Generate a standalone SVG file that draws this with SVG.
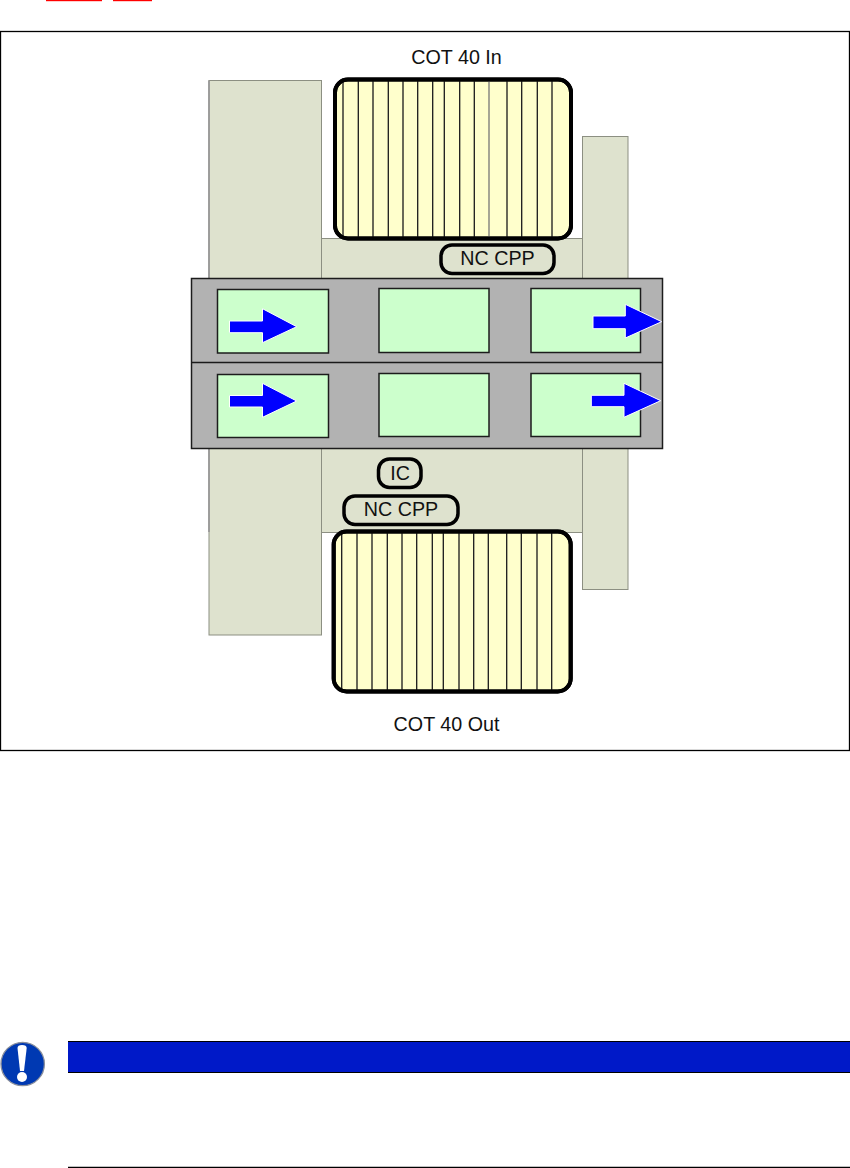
<svg xmlns="http://www.w3.org/2000/svg" width="850" height="1168" viewBox="0 0 850 1168">
<style>
.col{fill:#dee2ce;stroke:#8c8f82;stroke-width:1}
.strip{fill:#b2b2b2;stroke:#1c1c1c;stroke-width:1.5}
.cell{fill:#ccffcc;stroke:#1c1c1c;stroke-width:1.5}
.cot{fill:#ffffcc;stroke:#000;stroke-width:4}
.cotframe{fill:none;stroke:#000;stroke-width:4}
.div{stroke:#1a1a1a;stroke-width:1.3;fill:none}
.tag{fill:#dee2ce;stroke:#000;stroke-width:3.5}
.arrow{fill:#0000ff;stroke:#fff;stroke-width:1}
text{font-family:"Liberation Sans",Arial,sans-serif;font-size:19.7px;fill:#111;text-anchor:middle}
</style>
<rect width="850" height="1168" fill="#fff"/>
<g id="header-marks" fill="#ff0000"><rect x="46" y="0" width="56" height="1.2"/><rect x="113" y="0" width="39" height="1.2"/></g>
<rect id="frame" x="0.5" y="31.5" width="849" height="719" fill="#fff" stroke="#000" stroke-width="1.3"/>
<g id="columns">
<rect class="col" x="321" y="238.500" width="262" height="294"/>
<rect class="col" x="209" y="80.5" width="112.500" height="554.500"/>
<path d="M209 80.500V532" stroke="#999" stroke-width="1.800" fill="none"/>
<rect class="col" x="582.500" y="136.500" width="45.500" height="453"/>
</g>
<g id="strip">
<rect class="strip" x="191.500" y="278.500" width="471" height="170"/>
<path d="M191.500 362.500H662.500" stroke="#1a1a1a" stroke-width="1.500"/>
</g>
<g id="cell-r1-1"><rect class="cell" x="217.500" y="289.500" width="111" height="63.500"/></g>
<g id="cell-r1-2"><rect class="cell" x="379" y="288.500" width="110" height="64"/></g>
<g id="cell-r1-3"><rect class="cell" x="531" y="288.500" width="109.500" height="64"/></g>
<g id="cell-r2-1"><rect class="cell" x="217.500" y="374.500" width="111" height="63"/></g>
<g id="cell-r2-2"><rect class="cell" x="379" y="373.500" width="110" height="63"/></g>
<g id="cell-r2-3"><rect class="cell" x="531" y="373.500" width="109.500" height="63"/></g>
<g id="connectors">
<path class="arrow" d="M229.500 321H262.500V308.700L296.700 326.700L262.500 342.700V332.700H229.500Z"/>
<path class="arrow" d="M229.500 395.500H262.500V383.300L296.700 401L262.500 417.300V407H229.500Z"/>
<path class="arrow" d="M593 316H625.300V304.300L661.700 321.700L625.300 338V328.700H593Z"/>
<path class="arrow" d="M591.300 395.300H624V383.300L660.700 400.700L624 417.300V406.700H591.300Z"/>
</g>
<g id="cot-in">
<rect class="cot" x="335" y="79.500" width="236" height="159" rx="13"/>
<path class="div" d="M343 80V238M358.300 80V238M373 80V238M388.300 80V238M403 80V238M417.700 80V238M432.700 80V238M444.300 80V238M459.700 80V238M474.300 80V238M507 80V238M521.700 80V238M537.300 80V238M552 80V238"/>
<path d="M489 80V238" stroke="#777" stroke-width="1.300"/>
<rect class="cotframe" x="335" y="79.500" width="236" height="159" rx="13"/>
<text x="456.500" y="63.500">COT 40 In</text>
</g>
<g id="cot-out">
<rect class="cot" x="333.700" y="531.500" width="237" height="160" rx="13"/>
<path class="div" d="M341.700 532V690M357 532V690M372 532V690M387.300 532V690M402 532V690M416.700 532V690M432.300 532V690M443.300 532V690M459 532V690M473.700 532V690M488.300 532V690M506.700 532V690M521.300 532V690M537 532V690M551.700 532V690"/>
<rect class="cotframe" x="333.700" y="531.500" width="237" height="160" rx="13"/>
<text x="446.500" y="731">COT 40 Out</text>
</g>
<g id="nc-cpp-top"><rect class="tag" x="441" y="245" width="113" height="28.500" rx="11"/><text x="497.500" y="265">NC CPP</text></g>
<g id="ic"><rect class="tag" x="378.500" y="459" width="42.500" height="28.500" rx="11"/><text x="400" y="479.500">IC</text></g>
<g id="nc-cpp-bottom"><rect class="tag" x="344" y="496" width="114" height="28.500" rx="11"/><text x="401" y="516">NC CPP</text></g>
<g id="notice-icon">
<circle cx="22.700" cy="1064" r="21.700" fill="#0039b2" stroke="#8a8f9c" stroke-width="1.300"/>
<path d="M17.500 1048Q17.500 1045 22 1045Q26.700 1045 26.700 1048L24 1071H20Z" fill="#fff"/>
<circle cx="22" cy="1077" r="5" fill="#fff"/>
</g>
<g id="notice-bar">
<rect x="68" y="1041" width="782" height="31.500" fill="#0019c8"/>
<path d="M68 1041.500H850M68 1072.500H850" stroke="#000" stroke-width="1.200"/>
<path d="M68 1167.300H850" stroke="#000" stroke-width="1.200"/>
</g>
</svg>
